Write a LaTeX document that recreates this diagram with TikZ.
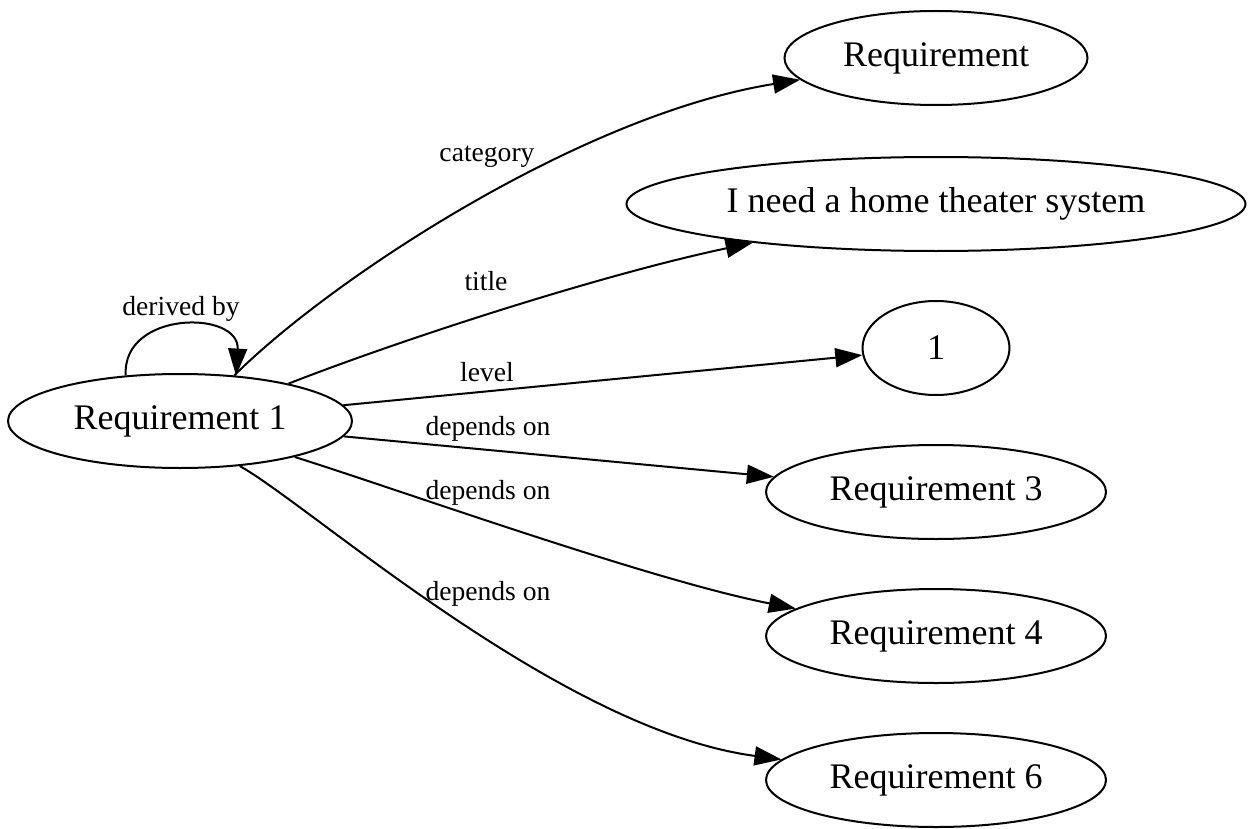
\documentclass[tikz,border=0pt]{standalone}
\usepackage{fontspec}
\setmainfont{Liberation Serif}
\usetikzlibrary{arrows.meta,shapes.geometric}
\begin{document}
\begin{tikzpicture}[x=0.5pt,y=-0.5pt,
  nd/.style={draw, ellipse, line width=1pt, inner sep=0pt, font=\fontsize{18}{20}\selectfont, minimum height=47pt},
  edge/.style={draw, line width=1pt, -{Triangle[length=13.5pt,width=9.5pt]}},
  elabel/.style={anchor=base, inner sep=0pt, font=\fontsize{13.8}{16}\selectfont}]
\useasboundingbox (0,0) rectangle (1253,829);
\node[nd, minimum width=172pt] (r1) at (180,421) {Requirement 1};
\node[nd, minimum width=151.5pt] (req) at (936,58) {Requirement};
\node[nd, minimum width=309.5pt] (hts) at (936,204) {I need a home theater system};
\node[nd, minimum width=73.5pt] (one) at (936,348) {1};
\node[nd, minimum width=170pt] (r3) at (936,492) {Requirement 3};
\node[nd, minimum width=170pt] (r4) at (936,636) {Requirement 4};
\node[nd, minimum width=170pt] (r6) at (936,780) {Requirement 6};

\draw[edge] (r1.40) .. controls (330,280) and (580,115) .. (req);
\draw[edge] (r1.19) .. controls (400,340) and (600,275) .. (hts);
\draw[edge] (r1) -- (one);
\draw[edge] (r1) -- (r3);
\draw[edge] (r1) .. controls (400,490) and (650,580) .. (r4);
\draw[edge] (r1.-37) .. controls (310,505) and (560,730) .. (r6);
\draw[edge] (r1.140) .. controls (122,310) and (240,310) .. (r1.39);

\node[elabel] (lderived) at (181,315) {derived by};
\node[elabel] (lcat) at (487,162) {category};
\node[elabel] (ltitle) at (486,290) {title};
\node[elabel] (llevel) at (487,381) {level};
\node[elabel] (ld3) at (488,435) {depends on};
\node[elabel] (ld4) at (488,499) {depends on};
\node[elabel] (ld6) at (488,600) {depends on};
\end{tikzpicture}
\end{document}
